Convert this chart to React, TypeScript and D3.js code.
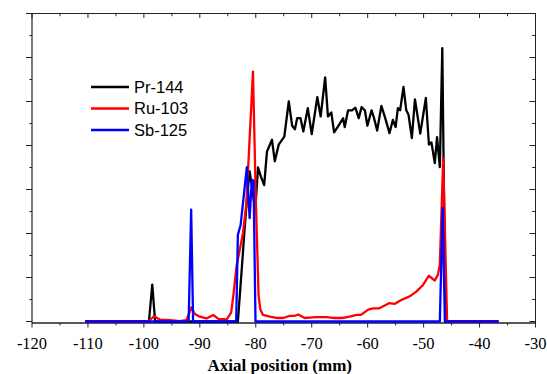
import React from "react";
import * as d3 from "d3";

const xTicks = [-120, -110, -100, -90, -80, -70, -60, -50, -40, -30];

const prX = [-110.5, -99.1, -98.5, -98.0, -83.2, -82.5, -82.0, -81.5, -81.1, -80.6, -80.1, -79.6, -79.1, -78.5, -78.0, -77.1, -76.6, -75.9, -74.9, -74.1, -73.5, -73.0, -72.6, -72.0, -71.5, -70.7, -70.0, -69.0, -68.4, -67.6, -67.1, -66.5, -66.0, -65.2, -64.4, -64.1, -63.5, -62.8, -62.2, -61.6, -61.1, -60.5, -60.05, -59.3, -58.9, -58.3, -57.55, -56.9, -56.1, -55.5, -55.0, -54.6, -54.2, -53.6, -53.1, -52.7, -52.1, -51.55, -50.6, -49.6, -49.05, -48.6, -48.0, -47.6, -47.1, -46.66, -46.1, -36.6];
const prY = [0, 0, 0.84, 0, 0, 1.2, 2.1, 2.9, 3.41, 3.0, 2.52, 3.5, 3.3, 3.1, 3.86, 4.13, 3.64, 4.02, 4.2, 5.0, 4.45, 4.37, 4.62, 4.62, 4.32, 4.85, 4.26, 5.1, 4.66, 5.55, 4.66, 4.75, 4.3, 4.45, 4.62, 4.42, 4.8, 4.8, 4.86, 4.62, 4.87, 4.8, 4.45, 4.8, 4.64, 4.34, 4.9, 4.64, 4.28, 4.58, 4.42, 4.85, 4.8, 5.33, 4.8, 4.7, 4.17, 5.05, 4.27, 5.08, 4.02, 4.07, 3.6, 4.19, 3.51, 6.21, 0, 0];

const ruX = [-110.5, -99.2, -98.2, -97.1, -95.3, -93.6, -92.4, -91.5, -90.9, -90.0, -88.8, -87.6, -86.7, -85.2, -84.4, -84.0, -83.45, -82.3, -81.7, -81.2, -80.5, -80.0, -79.5, -79.2, -78.7, -77.5, -76.3, -75.1, -73.9, -73.0, -72.4, -71.25, -70.4, -69.2, -67.4, -66.2, -64.4, -63.2, -62.0, -61.2, -59.9, -59.05, -57.9, -56.1, -55.2, -54.0, -52.5, -51.3, -50.1, -49.05, -48.0, -47.45, -47.1, -46.5, -45.8, -36.6];
const ruY = [0, 0, 0.12, 0.04, 0.03, 0.01, 0.03, 0.32, 0.17, 0.11, 0.07, 0.15, 0.06, 0.05, 0.2, 0.6, 1.25, 2.0, 2.65, 3.9, 5.68, 2.8, 0.6, 0.28, 0.15, 0.11, 0.08, 0.08, 0.13, 0.13, 0.16, 0.08, 0.09, 0.1, 0.1, 0.08, 0.08, 0.11, 0.15, 0.15, 0.27, 0.3, 0.3, 0.42, 0.4, 0.49, 0.57, 0.68, 0.83, 1.04, 0.93, 1.06, 1.29, 3.71, 0, 0];

const sbX = [-110.5, -92.0, -91.55, -91.2, -83.5, -83.2, -82.7, -81.6, -81.1, -80.7, -80.4, -80.05, -47.1, -46.6, -46.2, -36.6];
const sbY = [0, 0, 2.54, 0, 0, 1.97, 2.2, 3.51, 2.35, 3.22, 3.2, 0, 0, 2.58, 0, 0];

const seriesNames = ["Pr-144", "Ru-103", "Sb-125"];
const seriesColors = ["#000000", "#ff0000", "#0000ff"];

export default function App() {
  const W = 547, H = 374;
  const left = 32, right = 535.5, top = 13.5, bottom = 321.5, axisY = 323;
  const x = d3.scaleLinear().domain([-120, -30]).range([left, right]);
  const y = d3.scaleLinear().domain([0, 7]).range([bottom, top]);
  const line = d3.line<[number, number]>().x(d => x(d[0])).y(d => y(d[1]));
  const data = [
    prX.map((v, i) => [v, prY[i]] as [number, number]),
    ruX.map((v, i) => [v, ruY[i]] as [number, number]),
    sbX.map((v, i) => [v, sbY[i]] as [number, number]),
  ];
  const xMinor = d3.range(-120, -29, 5);
  const yMinor = d3.range(0, 7.01, 0.5);
  const ax = "#222";
  return (
    <svg width={W} height={H} style={{ position: "absolute", left: 0, top: 0, background: "#fff" }}>
      {/* frame */}
      <line x1={left} x2={right} y1={top} y2={top} stroke={ax} strokeWidth={1} />
      <line x1={left} x2={left} y1={top} y2={axisY} stroke={ax} strokeWidth={1.2} />
      <line x1={right} x2={right} y1={top} y2={axisY} stroke={ax} strokeWidth={1} />
      <line x1={left} x2={right} y1={axisY} y2={axisY} stroke={ax} strokeWidth={1.3} />
      {/* x ticks */}
      {xMinor.map((v, i) => {
        const major = Math.round(v) % 10 === 0;
        return (
          <g key={"xt" + i}>
            <line x1={x(v)} x2={x(v)} y1={axisY} y2={axisY + (major ? 4.5 : 2.5)} stroke={ax} strokeWidth={1} />
            <line x1={x(v)} x2={x(v)} y1={top} y2={top + (major ? 4.5 : 2.7)} stroke={ax} strokeWidth={1} />
          </g>
        );
      })}
      {/* y ticks */}
      {yMinor.map((v, i) => {
        const major = Math.abs(v - Math.round(v)) < 1e-6;
        return (
          <g key={"yt" + i}>
            <line x1={left} x2={left - (major ? 6 : 2.5)} y1={y(v)} y2={y(v)} stroke={ax} strokeWidth={1} />
            <line x1={right} x2={right - (major ? 6 : 3.3)} y1={y(v)} y2={y(v)} stroke={ax} strokeWidth={1} />
          </g>
        );
      })}
      {xTicks.map(v => (
        <text key={"xl" + v} x={x(v)} y={349} textAnchor="middle" fontFamily="'Liberation Serif', 'Times New Roman', serif" fontSize={16.5} fill="#000">
          {v}
        </text>
      ))}
      <text x={(left + right) / 2 - 4} y={371} textAnchor="middle" fontFamily="'Liberation Serif', 'Times New Roman', serif" fontWeight="bold" fontSize={17} fill="#000">
        Axial position (mm)
      </text>
      {/* data */}
      {data.map((d, i) => (
        <path key={"s" + i} d={line(d) || ""} fill="none" stroke={seriesColors[i]} strokeWidth={2.3} strokeLinejoin="round" />
      ))}
      {/* legend */}
      {seriesNames.map((n, i) => (
        <g key={"lg" + i}>
          <line x1={91} x2={129} y1={87 + i * 21.5} y2={87 + i * 21.5} stroke={seriesColors[i]} strokeWidth={2.3} />
          <text x={134} y={87 + i * 21.5 + 5.8} fontFamily="'Liberation Sans', Arial, sans-serif" fontSize={16.5} fill="#000">
            {n}
          </text>
        </g>
      ))}
    </svg>
  );
}
